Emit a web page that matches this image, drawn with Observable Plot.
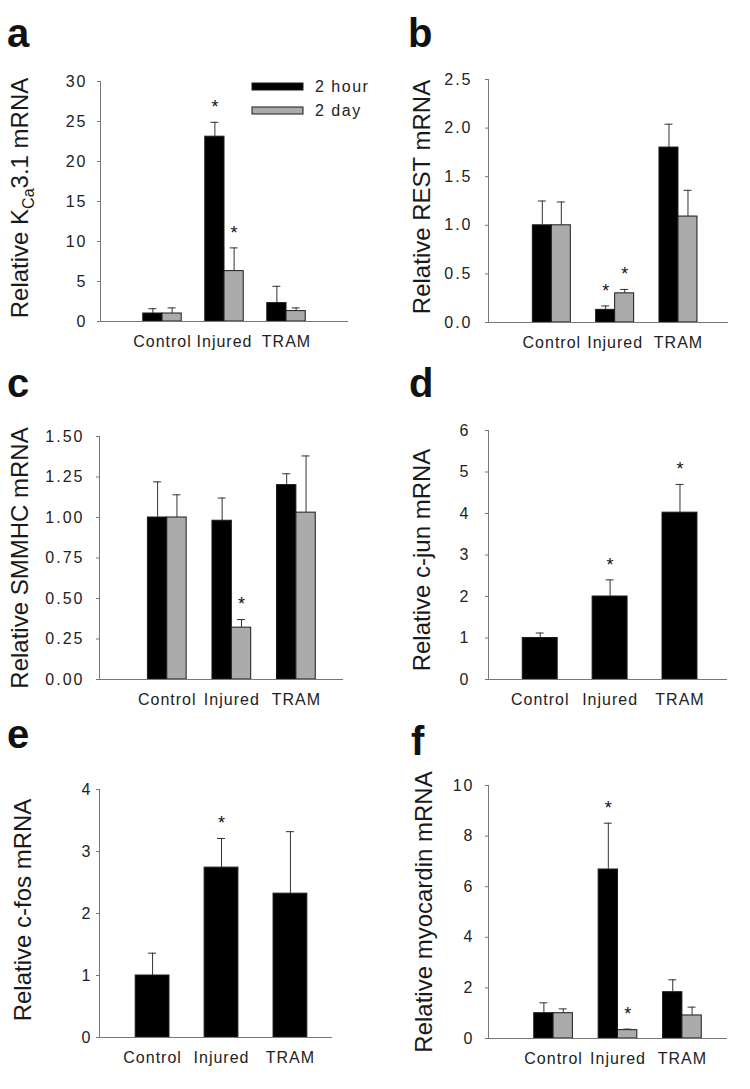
<!DOCTYPE html>
<html><head><meta charset="utf-8">
<script src="https://cdn.jsdelivr.net/npm/d3@7"></script>
<script src="https://cdn.jsdelivr.net/npm/@observablehq/plot@0.6"></script>
<style>
body{margin:0;background:#fff;}
#fig{position:relative;width:750px;height:1089px;font-family:"Liberation Sans",Arial,sans-serif;background:#fff;}
#fig .panel{position:absolute;}
#fig svg{overflow:visible;}
g[aria-label="y-axis tick label"] text{letter-spacing:2px;}
g[aria-label="x-axis tick label"] text{letter-spacing:1px;}
</style></head><body><div id="fig"></div>
<script>
// ---- data ----
const categories = ["Control", "Injured", "TRAM"];
const seriesNames = ["2 hour", "2 day"];
const seriesColors = ["#000000", "#ababab"];

// a: KCa3.1
const kca2h = [1.0, 23.1, 2.3];
const kca2hErr = [0.6, 1.8, 2.1];
const kca2hSig = [false, true, false];
const kca2d = [1.0, 6.3, 1.3];
const kca2dErr = [0.7, 2.9, 0.4];
const kca2dSig = [false, true, false];
const kcaTicks = [0, 5, 10, 15, 20, 25, 30];

// b: REST
const rest2h = [1.0, 0.13, 1.80];
const rest2hErr = [0.25, 0.04, 0.24];
const rest2hSig = [false, true, false];
const rest2d = [1.0, 0.30, 1.09];
const rest2dErr = [0.24, 0.04, 0.27];
const rest2dSig = [false, true, false];
const restTicks = [0, 0.5, 1.0, 1.5, 2.0, 2.5];

// c: SMMHC
const smmhc2h = [1.00, 0.98, 1.20];
const smmhc2hErr = [0.22, 0.14, 0.07];
const smmhc2hSig = [false, false, false];
const smmhc2d = [1.00, 0.32, 1.03];
const smmhc2dErr = [0.14, 0.05, 0.35];
const smmhc2dSig = [false, true, false];
const smmhcTicks = [0, 0.25, 0.5, 0.75, 1.0, 1.25, 1.5];

// d: c-jun
const cjun = [1.0, 2.0, 4.02];
const cjunErr = [0.12, 0.40, 0.68];
const cjunSig = [false, true, true];
const cjunTicks = [0, 1, 2, 3, 4, 5, 6];

// e: c-fos
const cfos = [1.0, 2.74, 2.32];
const cfosErr = [0.36, 0.47, 1.0];
const cfosSig = [false, true, false];
const cfosTicks = [0, 1, 2, 3, 4];

// f: myocardin
const myo2h = [1.0, 6.68, 1.83];
const myo2hErr = [0.41, 1.83, 0.49];
const myo2hSig = [false, true, false];
const myo2d = [1.0, 0.33, 0.91];
const myo2dErr = [0.17, 0.04, 0.33];
const myo2dSig = [false, true, false];
const myoTicks = [0, 2, 4, 6, 8, 10];

// ---- layout ----
const panels = [
  {letter: "a", left: 0, top: 0, width: 375, height: 360, mL: 100, mR: 27, mT: 81, mB: 39,
   xDom: [0, 4], yDom: [0, 30], ticks: kcaTicks, fmt: d3.format("d"), pad: 10, w: 0.31,
   series: [[kca2h, kca2hErr, kca2hSig], [kca2d, kca2dErr, kca2dSig]],
   lx: 7, ly: 47, labX: 28, labY: 198, label: [{t: "Relative K"}, {t: "Ca", sub: true}, {t: "3.1 mRNA"}], legend: true},
  {letter: "b", left: 375, top: 0, width: 375, height: 360, mL: 113, mR: 22, mT: 79, mB: 38,
   xDom: [0, 3.79], yDom: [0, 2.5], ticks: restTicks, fmt: d3.format(".1f"), pad: 13, w: 0.30,
   series: [[rest2h, rest2hErr, rest2hSig], [rest2d, rest2dErr, rest2dSig]],
   lx: 33, ly: 47, labX: 55, labY: 197, label: [{t: "Relative REST mRNA"}]},
  {letter: "c", left: 0, top: 360, width: 375, height: 360, mL: 99, mR: 32, mT: 76, mB: 41,
   xDom: [-0.05, 3.73], yDom: [0, 1.5], ticks: smmhcTicks, fmt: d3.format(".2f"), pad: 12, w: 0.30,
   series: [[smmhc2h, smmhc2hErr, smmhc2hSig], [smmhc2d, smmhc2dErr, smmhc2dSig]],
   lx: 7, ly: 37, labX: 28, labY: 198, label: [{t: "Relative SMMHC mRNA"}]},
  {letter: "d", left: 375, top: 360, width: 375, height: 360, mL: 113, mR: 23, mT: 70, mB: 41,
   xDom: [0.26, 3.68], yDom: [0, 6], ticks: cjunTicks, fmt: d3.format("d"), pad: 15, w: 0.5,
   series: [[cjun, cjunErr, cjunSig]],
   lx: 34, ly: 37, labX: 55, labY: 200, label: [{t: "Relative c-jun mRNA"}]},
  {letter: "e", left: 0, top: 720, width: 375, height: 369, mL: 99, mR: 43, mT: 69, mB: 52,
   xDom: [0.23, 3.61], yDom: [0, 4], ticks: cfosTicks, fmt: d3.format("d"), pad: 4, w: 0.49,
   series: [[cfos, cfosErr, cfosSig]],
   lx: 7, ly: 28, labX: 31, labY: 190, label: [{t: "Relative c-fos mRNA"}]},
  {letter: "f", left: 375, top: 720, width: 375, height: 369, mL: 113, mR: 23, mT: 65, mB: 51,
   xDom: [-0.01, 3.70], yDom: [0, 10], ticks: myoTicks, fmt: d3.format("d"), pad: 11, w: 0.30,
   series: [[myo2h, myo2hErr, myo2hSig], [myo2d, myo2dErr, myo2dSig]],
   lx: 36, ly: 35, labX: 57, labY: 192, label: [{t: "Relative myocardin mRNA"}]}
];

function rowsFor(values, errs, sigs, slot, nSlots, w) {
  return categories.map((c, i) => {
    const idx = i + 1;
    const x1 = nSlots === 1 ? idx - w / 2 : (slot === 0 ? idx - w : idx);
    const x2 = x1 + w;
    return {category: c, series: seriesNames[slot], value: values[i], top: values[i] + errs[i],
            sig: sigs[i], x1, x2, xc: (x1 + x2) / 2};
  });
}

const fig = document.getElementById("fig");

for (const p of panels) {
  const rows = p.series.flatMap((s, k) => rowsFor(s[0], s[1], s[2], k, p.series.length, p.w));
  const plotW = p.width - p.mL - p.mR;
  const cap = 4 * (p.xDom[1] - p.xDom[0]) / plotW;
  const chart = Plot.plot({
    width: p.width, height: p.height,
    marginLeft: p.mL, marginRight: p.mR, marginTop: p.mT, marginBottom: p.mB,
    style: {fontFamily: '"Liberation Sans", Arial, sans-serif', fontSize: "16px", background: "#fff", color: "#222"},
    x: {type: "linear", domain: p.xDom},
    y: {domain: p.yDom},
    color: {domain: seriesNames, range: seriesColors},
    marks: [
      Plot.rectY(rows, {x1: "x1", x2: "x2", y: "value", fill: "series", stroke: "#1a1a1a", strokeWidth: 1}),
      Plot.ruleX(rows, {x: "xc", y1: "value", y2: "top", stroke: "#333", strokeWidth: 1}),
      Plot.ruleY(rows, {y: "top", x1: d => d.xc - cap, x2: d => d.xc + cap, stroke: "#333", strokeWidth: 1}),
      Plot.text(rows.filter(d => d.sig), {x: "xc", y: "top", text: () => "*", dy: -15, fontSize: 18, fill: "#111"}),
      Plot.ruleY([p.yDom[0]], {stroke: "#777", strokeWidth: 1}),
      Plot.ruleX([p.xDom[0]], {stroke: "#777", strokeWidth: 1}),
      Plot.axisY({ticks: p.ticks, tickFormat: p.fmt, tickSize: 3, tickPadding: p.pad, stroke: "#777", fill: "#222", label: null}),
      Plot.axisX({ticks: [1, 2, 3], tickFormat: i => categories[i - 1], tickSize: 0, tickPadding: 14, fill: "#222", label: null})
    ]
  });
  const div = document.createElement("div");
  div.className = "panel";
  div.style.left = p.left + "px";
  div.style.top = p.top + "px";
  div.appendChild(chart);
  fig.appendChild(div);

  const svg = d3.select(chart);
  svg.append("text").attr("x", p.lx).attr("y", p.ly).attr("text-anchor", "start")
    .style("font-size", "40px").style("font-weight", "bold").attr("fill", "#111").text(p.letter);
  const t = svg.append("text")
    .attr("transform", `translate(${p.labX},${p.labY}) rotate(-90)`)
    .attr("text-anchor", "middle").style("font-size", "24px").attr("fill", "#1a1a1a");
  let prevSub = false;
  for (const part of p.label) {
    const ts = t.append("tspan").text(part.t);
    if (part.sub) ts.attr("dy", 6).style("font-size", "16px");
    else if (prevSub) ts.attr("dy", -6);
    prevSub = !!part.sub;
  }

  if (p.legend) {
    const color = chart.scale("color");
    const lg = svg.append("g");
    seriesNames.forEach((name, i) => {
      const y = i === 0 ? 83 : 107;
      lg.append("rect").attr("x", 252).attr("y", y).attr("width", 51).attr("height", 7)
        .attr("fill", color.apply(name)).attr("stroke", "#1a1a1a").attr("stroke-width", 1);
      lg.append("text").attr("x", 315).attr("y", y + 3.5).attr("dy", "0.35em").attr("text-anchor", "start")
        .style("font-size", "16px").style("letter-spacing", "1.5px").attr("fill", "#222").text(name);
    });
  }
}
</script>
</body></html>
